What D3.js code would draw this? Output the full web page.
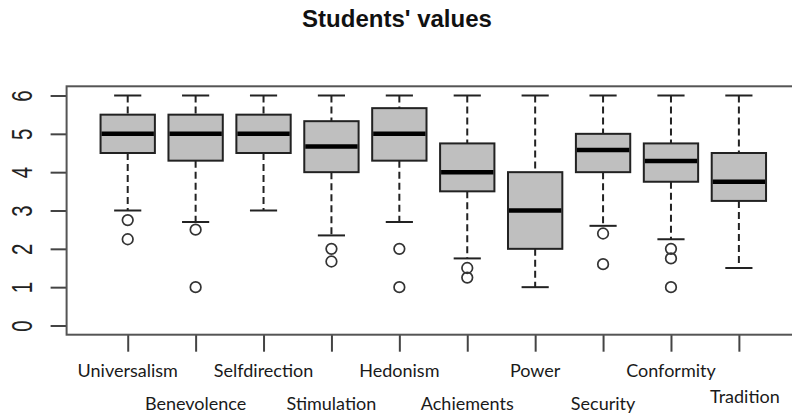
<!DOCTYPE html>
<html>
<head>
<meta charset="utf-8">
<script src="https://cdn.jsdelivr.net/npm/d3@7"></script>
<style>
  body { margin: 0; background: #fff; }
  svg { display: block; }
</style>
</head>
<body>
<svg width="792" height="416"></svg>
<script>
// values
const categories = ["Universalism", "Benevolence", "Selfdirection", "Stimulation", "Hedonism",
                    "Achiements", "Power", "Security", "Conformity", "Tradition"];
const whiskerLow  = [3,    2.7,  3,    2.35, 2.7,  1.75, 1, 2.6,  2.25, 1.5];
const q1          = [4.5,  4.3,  4.5,  4,    4.3,  3.5,  2, 4,    3.75, 3.25];
const median      = [5,    5,    5,    4.67, 5,    4,    3, 4.58, 4.29, 3.75];
const q3          = [5.5,  5.5,  5.5,  5.33, 5.67, 4.75, 4, 5,    4.75, 4.5];
const whiskerHigh = [6,    6,    6,    6,    6,    6,    6, 6,    6,    6];
const outliers    = [[2.75, 2.25], [2.5, 1], [], [2, 1.67], [2, 1],
                     [1.5, 1.25], [], [2.4, 1.6], [2, 1.75, 1], []];
const yTicks = [0, 1, 2, 3, 4, 5, 6];

let svg = d3.select("svg");

// R style: x from 0.5..10.5 plus 4%, y from 0..6 plus 4%
let x = d3.scaleLinear().domain([0.1, 10.9]).range([66.6, 800]);
let y = d3.scaleLinear().domain([-0.24, 6.24]).range([334.7, 86.3]);
let step = x(2) - x(1);
let boxW = step * 0.8;
let capW = boxW * 0.5;

// title
svg.append("text")
    .attr("x", 397).attr("y", 27)
    .attr("text-anchor", "middle")
    .style("font-family", "'Liberation Sans', Arial, sans-serif")
    .style("font-weight", "bold")
    .style("font-size", "24px")
    .attr("fill", "#111")
    .text("Students' values");

// y axis
let yAxis = svg.append("g")
    .attr("transform", "translate(66.6,0)")
    .call(d3.axisLeft(y).tickValues(yTicks).tickSize(16).tickFormat(d3.format("d")));
yAxis.select(".domain").remove();
yAxis.selectAll(".tick line").attr("stroke", "#444").attr("stroke-width", 2);
yAxis.selectAll(".tick text")
    .attr("x", null).attr("dy", null)
    .attr("transform", "translate(-35,0) rotate(-90) scale(1,1.45)")
    .attr("text-anchor", "middle")
    .attr("fill", "#222")
    .style("font-family", "'Liberation Sans', Arial, sans-serif")
    .style("font-size", "20.5px");

// x axis ticks
let xAxis = svg.append("g")
    .attr("transform", "translate(0,334.7)")
    .call(d3.axisBottom(x).tickValues(d3.range(1, categories.length + 1)).tickSize(17).tickFormat(""));
xAxis.select(".domain").remove();
xAxis.selectAll(".tick line").attr("stroke", "#444").attr("stroke-width", 2);

// category labels, staggered on two rows
svg.append("g").selectAll("text")
    .data(categories)
    .enter()
    .append("text")
    .attr("x", (d, i) => x(i + 1) + (i == categories.length - 1 ? 6 : 0))
    .attr("y", (d, i) => i % 2 == 0 ? 377 : (i == categories.length - 1 ? 403 : 410))
    .attr("text-anchor", "middle")
    .attr("fill", "#1a1a1a")
    .style("font-family", "Lato, 'Open Sans', sans-serif")
    .style("font-size", "18px")
    .text(d => d);

// boxes
let g = svg.append("g")
    .selectAll("g")
    .data(categories)
    .enter()
    .append("g");

// dashed whiskers
g.append("line")
    .attr("x1", (d, i) => x(i + 1)).attr("x2", (d, i) => x(i + 1))
    .attr("y1", (d, i) => y(whiskerHigh[i])).attr("y2", (d, i) => y(q3[i]))
    .attr("stroke", "#222").attr("stroke-width", 2).attr("stroke-dasharray", "7,4");
g.append("line")
    .attr("x1", (d, i) => x(i + 1)).attr("x2", (d, i) => x(i + 1))
    .attr("y1", (d, i) => y(q1[i])).attr("y2", (d, i) => y(whiskerLow[i]))
    .attr("stroke", "#222").attr("stroke-width", 2).attr("stroke-dasharray", "7,4");

// staples
[whiskerHigh, whiskerLow].forEach(arr => {
    g.append("line")
        .attr("x1", (d, i) => x(i + 1) - capW / 2).attr("x2", (d, i) => x(i + 1) + capW / 2)
        .attr("y1", (d, i) => y(arr[i])).attr("y2", (d, i) => y(arr[i]))
        .attr("stroke", "#222").attr("stroke-width", 2);
});

g.append("rect")
    .attr("x", (d, i) => x(i + 1) - boxW / 2)
    .attr("width", boxW)
    .attr("y", (d, i) => y(q3[i]))
    .attr("height", (d, i) => y(q1[i]) - y(q3[i]))
    .attr("fill", "#bfbfbf")
    .attr("stroke", "#222")
    .attr("stroke-width", 2);

g.append("line")
    .attr("x1", (d, i) => x(i + 1) - boxW / 2 + 1).attr("x2", (d, i) => x(i + 1) + boxW / 2 - 1)
    .attr("y1", (d, i) => y(median[i])).attr("y2", (d, i) => y(median[i]))
    .attr("stroke", "#000").attr("stroke-width", 4.5);

// outlier points
g.selectAll("circle")
    .data((d, i) => outliers[i].map(v => ({ i: i, v: v })))
    .enter()
    .append("circle")
    .attr("cx", d => x(d.i + 1))
    .attr("cy", d => y(d.v))
    .attr("r", 5.3)
    .attr("fill", "none")
    .attr("stroke", "#333")
    .attr("stroke-width", 1.7);

// plot frame (right side falls outside the picture)
svg.append("rect")
    .attr("x", 66.6).attr("y", 86.3)
    .attr("width", 800 - 66.6).attr("height", 334.7 - 86.3)
    .attr("fill", "none")
    .attr("stroke", "#555")
    .attr("stroke-width", 2);
</script>
</body>
</html>
